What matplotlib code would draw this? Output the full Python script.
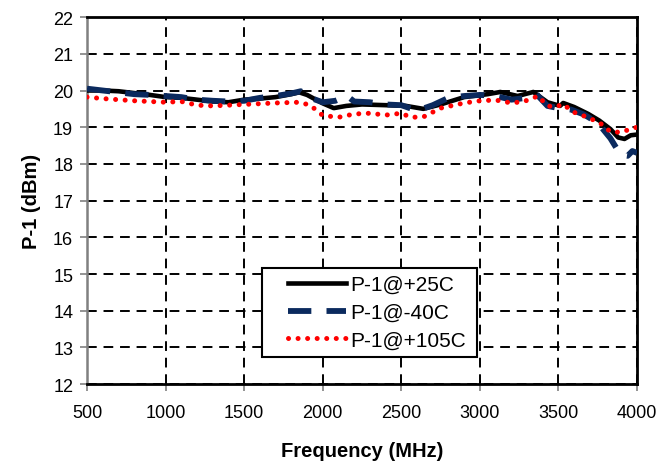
import matplotlib.pyplot as plt
from matplotlib.legend_handler import HandlerLine2D
import numpy as np

plt.rcParams['font.family'] = ['Liberation Sans', 'DejaVu Sans']

# P-1 @ +25C
f_25 = [500, 600, 700, 800, 900, 1000, 1100, 1200, 1300, 1400, 1500, 1600, 1700, 1800, 1850,
        1900, 2000, 2070, 2150, 2250, 2400, 2530, 2640, 2750, 2900, 3050, 3130, 3240, 3340,
        3430, 3510, 3530, 3600, 3690, 3760, 3830, 3880, 3920, 3960, 4000]
p_25 = [20.0, 20.0, 19.98, 19.93, 19.88, 19.82, 19.8, 19.75, 19.7, 19.68, 19.75, 19.78, 19.82, 19.9, 19.95,
        19.88, 19.65, 19.52, 19.58, 19.62, 19.6, 19.58, 19.5, 19.62, 19.82, 19.9, 19.96, 19.85, 19.96,
        19.68, 19.58, 19.66, 19.55, 19.36, 19.18, 18.95, 18.72, 18.68, 18.78, 18.8]

# P-1 @ -40C
f_m40 = [500, 600, 700, 800, 900, 1000, 1100, 1200, 1300, 1400, 1500, 1600, 1700, 1800, 1860,
         1920, 2000, 2080, 2155, 2200, 2300, 2400, 2500, 2600, 2700, 2800, 2900, 3000, 3100,
         3200, 3300, 3360, 3430, 3500, 3580, 3660, 3750, 3830, 3895, 3940, 3970, 4000]
p_m40 = [20.05, 20.0, 19.95, 19.9, 19.88, 19.85, 19.82, 19.75, 19.72, 19.7, 19.72, 19.8, 19.85, 19.92, 19.98,
         19.8, 19.68, 19.72, 19.85, 19.7, 19.68, 19.62, 19.6, 19.45, 19.6, 19.8, 19.85, 19.88, 19.85,
         19.75, 19.8, 19.9, 19.58, 19.52, 19.48, 19.35, 19.12, 18.7, 18.25, 18.22, 18.35, 18.3]

# P-1 @ +105C
f_105 = [500, 600, 700, 800, 900, 1000, 1100, 1200, 1300, 1400, 1500, 1600, 1700, 1850, 1920,
         2000, 2100, 2200, 2300, 2400, 2500, 2560, 2640, 2750, 2900, 3000, 3100, 3200, 3280,
         3370, 3430, 3480, 3530, 3590, 3660, 3760, 3830, 3895, 3960, 4000]
p_105 = [19.82, 19.78, 19.75, 19.72, 19.7, 19.68, 19.7, 19.6, 19.58, 19.6, 19.62, 19.64, 19.66, 19.68, 19.6,
         19.32, 19.27, 19.36, 19.38, 19.33, 19.38, 19.27, 19.28, 19.52, 19.66, 19.72, 19.74, 19.66, 19.7,
         19.85, 19.58, 19.55, 19.63, 19.42, 19.31, 19.13, 18.88, 18.86, 18.95, 19.0]


class RightLine(HandlerLine2D):
    # legend sample drawn only in the right part of the handle box
    def get_xdata(self, legend, xdescent, ydescent, width, height, fontsize):
        x = np.array([width - 42.0, width])
        return x, x


fig = plt.figure(figsize=(6.72, 4.64), dpi=100)
ax = fig.add_axes([0.1295, 0.170, 0.8185, 0.791])

ax.plot(f_25, p_25, color='black', lw=3.3, label='P-1@+25C', zorder=3)
ax.plot(f_m40, p_m40, color='#0b2a5e', lw=4.2, dashes=(4, 2.6), label='P-1@-40C', zorder=4)
ax.plot(f_105, p_105, color='#ff0000', lw=3.6, linestyle=(0, (0.01, 1.9)),
        dash_capstyle='round', label='P-1@+105C', zorder=5)

ax.set_xlim(500, 4000)
ax.set_ylim(12, 22)
ax.set_xticks(np.arange(500, 4001, 500))
ax.set_yticks(np.arange(12, 23, 1))
ax.grid(True, color='black', linestyle=(0, (5, 3.5)), linewidth=1.4)
ax.set_axisbelow(True)

for s in ['top', 'right', 'bottom']:
    ax.spines[s].set_color('black')
    ax.spines[s].set_linewidth(2.0)
ax.spines['left'].set_color('#808080')
ax.spines['left'].set_linewidth(1.8)
ax.tick_params(axis='both', direction='out', length=5, width=1.2, color='#808080',
               labelsize=13, pad=5)
ax.tick_params(axis='x', pad=9)

ax.set_xlabel('Frequency (MHz)', fontsize=14.5, fontweight='bold', labelpad=15)
ax.set_ylabel('P-1 (dBm)', fontsize=14.5, fontweight='bold', labelpad=9)

leg = ax.legend(loc='lower left', bbox_to_anchor=(0.318, 0.074, 0.391, 0.245), mode='expand',
                fontsize=15, fancybox=False, framealpha=1, edgecolor='black',
                handlelength=3.7, borderaxespad=0, borderpad=0.35, labelspacing=0.42,
                handletextpad=0.2, handler_map={plt.Line2D: RightLine()})
leg.get_frame().set_linewidth(1.5)

fig.savefig('out.png', dpi=100)
